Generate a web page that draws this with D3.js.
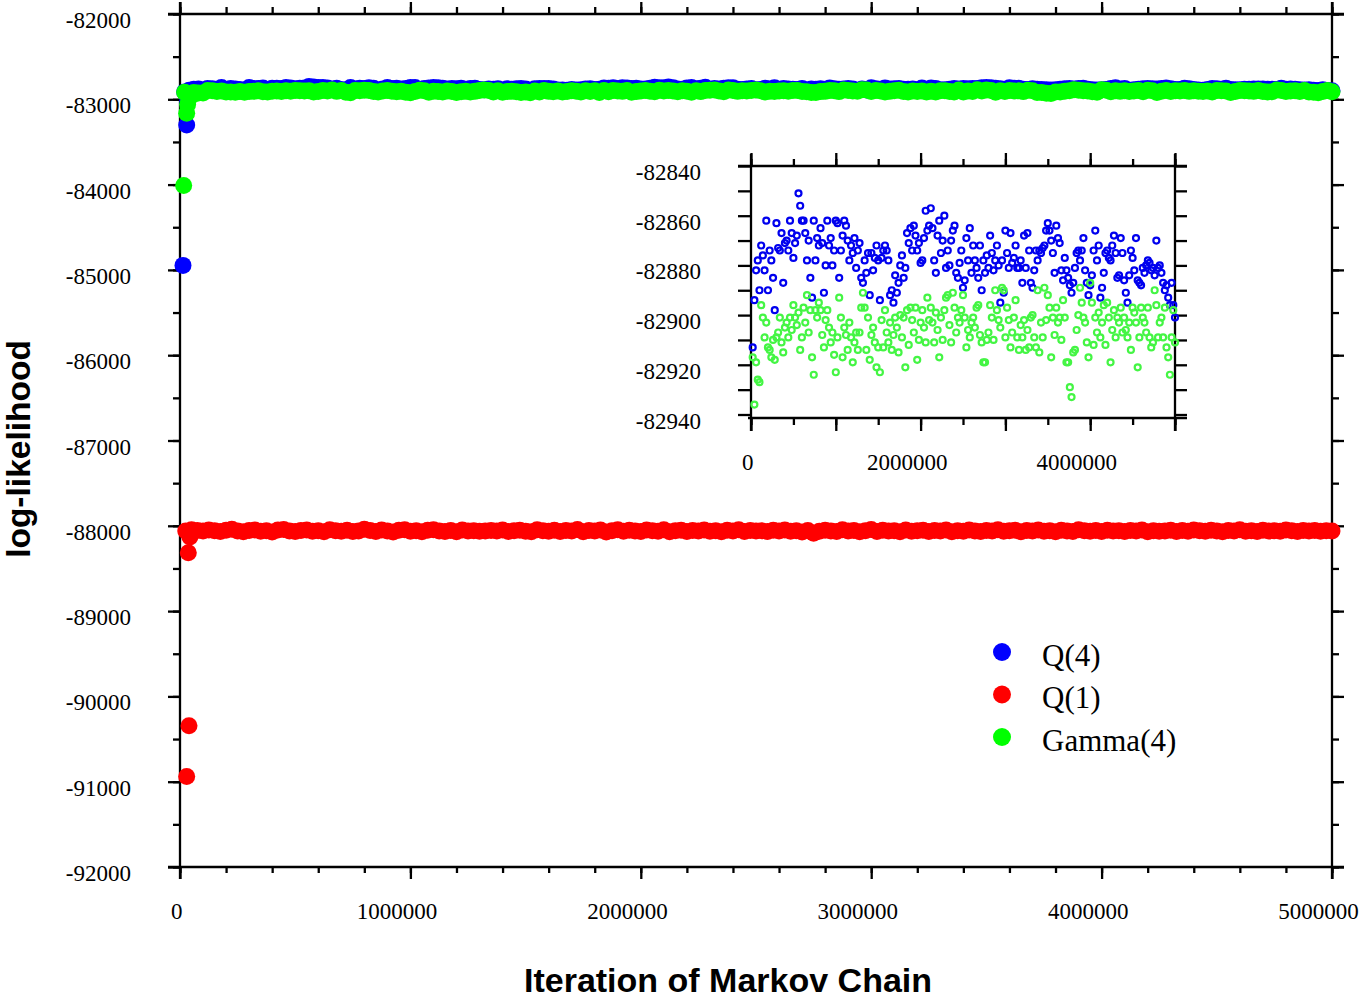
<!DOCTYPE html>
<html>
<head>
<meta charset="utf-8">
<script src="https://cdn.jsdelivr.net/npm/d3@7"></script>
<style>
  body { margin: 0; background: #fff; }
  svg { display: block; }
</style>
</head>
<body>
<div id="chart"></div>
<script>
// burn-in samples (start of each chain)
const q4BurnIter = [13000, 29000, 33000, 37000];
const q4BurnValues = [-84947, -83300, -83020, -82950];
const gamma4BurnIter = [16000, 29000, 33000, 38000, 60000];
const gamma4BurnValues = [-84010, -83163, -83060, -82990, -82940];
const q1BurnIter = [29000, 36000, 39000, 43000];
const q1BurnValues = [-90938, -88315, -90345, -88130];

// thinned samples after burn-in
const sampleStep = 20000;
const q4Values = [
  -82913, -82894, -82882, -82878, -82890, -82872, -82876, -82882, -82862, -82890,
  -82874, -82878, -82885, -82898, -82863, -82873, -82874, -82867, -82887, -82871,
  -82870, -82874, -82862, -82867, -82877, -82871, -82868, -82851, -82856, -82862,
  -82862, -82867, -82878, -82870, -82885, -82893, -82862, -82878, -82869, -82872,
  -82865, -82871, -82891, -82880, -82862, -82872, -82869, -82880, -82874, -82862,
  -82863, -82885, -82874, -82868, -82862, -82864, -82870, -82878, -82872, -82875,
  -82869, -82881, -82874, -82871, -82885, -82887, -82878, -82883, -82875, -82892,
  -82875, -82882, -82877, -82872, -82878, -82894, -82877, -82874, -82872, -82874,
  -82878, -82892, -82890, -82895, -82884, -82891, -82887, -82880, -82876, -82885,
  -82881, -82867, -82871, -82865, -82874, -82864, -82868, -82874, -82871, -82879,
  -82878, -82869, -82858, -82866, -82864, -82857, -82865, -82878, -82883, -82868,
  -82862, -82875, -82870, -82860, -82881, -82874, -82880, -82870, -82866, -82864,
  -82883, -82885, -82879, -82874, -82889, -82886, -82869, -82878, -82865, -82883,
  -82872, -82878, -82881, -82885, -82872, -82890, -82878, -82883, -82876, -82881,
  -82868, -82875, -82882, -82878, -82872, -82880, -82895, -82878, -82891, -82866,
  -82875, -82881, -82867, -82879, -82877, -82872, -82881, -82881, -82878, -82887,
  -82868, -82881, -82867, -82874, -82887, -82889, -82882, -82874, -82878, -82874,
  -82875, -82873, -82872, -82866, -82863, -82866, -82870, -82875, -82883, -82864,
  -82869, -82871, -82882, -82886, -82877, -82882, -82885, -82888, -82891, -82887,
  -82881, -82875, -82874, -82878, -82874, -82869, -82882, -82887, -82892, -82888,
  -82884, -82874, -82866, -82878, -82872, -82893, -82889, -82883, -82875, -82874,
  -82877, -82878, -82872, -82868, -82875, -82885, -82884, -82869, -82875, -82886,
  -82891, -82895, -82884, -82874, -82877, -82882, -82869, -82886, -82887, -82888,
  -82881, -82883, -82880, -82878, -82879, -82882, -82881, -82884, -82870, -82881,
  -82880, -82883, -82887, -82890, -82888, -82893, -82896, -82887, -82896, -82901
];
const gamma4Values = [
  -82917, -82936, -82919, -82926, -82927, -82896, -82901, -82909, -82903, -82913,
  -82914, -82917, -82910, -82918, -82909, -82907, -82901, -82911, -82915, -82905,
  -82903, -82909, -82901, -82906, -82896, -82901, -82904, -82899, -82914, -82909,
  -82897, -82903, -82892, -82907, -82898, -82917, -82924, -82898, -82901, -82895,
  -82898, -82908, -82913, -82902, -82898, -82905, -82911, -82907, -82916, -82923,
  -82909, -82893, -82901, -82917, -82905, -82908, -82914, -82903, -82909, -82919,
  -82911, -82907, -82914, -82907, -82897, -82891, -82897, -82914, -82901, -82918,
  -82908, -82905, -82911, -82921, -82913, -82923, -82902, -82913, -82898, -82907,
  -82911, -82903, -82914, -82908, -82901, -82905, -82915, -82900, -82909, -82901,
  -82921, -82898, -82912, -82897, -82902, -82907, -82897, -82918, -82910, -82903,
  -82898, -82905, -82911, -82893, -82902, -82897, -82903, -82911, -82899, -82906,
  -82917, -82901, -82910, -82898, -82893, -82892, -82904, -82911, -82891, -82897,
  -82907, -82901, -82903, -82898, -82892, -82901, -82913, -82906, -82909, -82903,
  -82901, -82905, -82897, -82896, -82908, -82911, -82919, -82919, -82910, -82907,
  -82896, -82901, -82910, -82890, -82898, -82902, -82905, -82889, -82890, -82909,
  -82897, -82902, -82913, -82907, -82901, -82894, -82909, -82914, -82904, -82909,
  -82902, -82914, -82906, -82913, -82901, -82900, -82909, -82913, -82890, -82915,
  -82903, -82909, -82889, -82902, -82892, -82897, -82917, -82901, -82908, -82897,
  -82903, -82901, -82910, -82894, -82901, -82919, -82919, -82929, -82933, -82915,
  -82914, -82906, -82900, -82889, -82895, -82901, -82903, -82911, -82917, -82887,
  -82895, -82912, -82901, -82907, -82899, -82909, -82903, -82896, -82912, -82895,
  -82901, -82919, -82906, -82898, -82909, -82901, -82903, -82897, -82907, -82901,
  -82906, -82909, -82903, -82914, -82897, -82899, -82903, -82921, -82909, -82897,
  -82901, -82903, -82907, -82897, -82909, -82913, -82911, -82890, -82896, -82909,
  -82903, -82901, -82909, -82897, -82913, -82917, -82924, -82909, -82898, -82911
];
const q1Step = 25000;
const q1Values = [
  -88060, -88045, -88055, -88062, -88050, -88058, -88066, -88052, -88040, -88060,
  -88070, -88055, -88048, -88063, -88058, -88072, -88050, -88044, -88061, -88067,
  -88054, -88049, -88065, -88059, -88071, -88046, -88057, -88063, -88052, -88068,
  -88060, -88041, -88056, -88066, -88050, -88062, -88074, -88053, -88047, -88064,
  -88058, -88069, -88051, -88045, -88060, -88066, -88055, -88071, -88049, -88062,
  -88057, -88065, -88060, -88054, -88061, -88048, -88068, -88059, -88052, -88063,
  -88070, -88046, -88058, -88064, -88051, -88067, -88055, -88061, -88043, -88069,
  -88056, -88062, -88050, -88073, -88058, -88047, -88065, -88053, -88060, -88068,
  -88049, -88057, -88063, -88045, -88071, -88059, -88052, -88066, -88054, -88061,
  -88048, -88064, -88057, -88070, -88051, -88060, -88046, -88066, -88055, -88062,
  -88059, -88067, -88053, -88061, -88049, -88065, -88058, -88072, -88056, -88088,
  -88063, -88051, -88060, -88068, -88047, -88062, -88055, -88070, -88058, -88044,
  -88066, -88053, -88061, -88057, -88069, -88050, -88064, -88059, -88052, -88067,
  -88055, -88062, -88048, -88071, -88057, -88063, -88050, -88060, -88066, -88054,
  -88061, -88046, -88065, -88058, -88052, -88069, -88056, -88062, -88049, -88064,
  -88057, -88070, -88053, -88060, -88067, -88045, -88059, -88063, -88055, -88068,
  -88051, -88062, -88058, -88066, -88054, -88061, -88048, -88070, -88057, -88063,
  -88060, -88052, -88067, -88056, -88064, -88050, -88058, -88065, -88053, -88061,
  -88069, -88055, -88060, -88047, -88063, -88058, -88066, -88052, -88062, -88057,
  -88064, -88050, -88059, -88068, -88054, -88061, -88056, -88065, -88058, -88062
];

// tick values
const mainXTicks = [0, 1000000, 2000000, 3000000, 4000000, 5000000];
const mainYTicks = [-82000, -83000, -84000, -85000, -86000, -87000, -88000, -89000, -90000, -91000, -92000];
const insetXTicks = [0, 1000000, 2000000, 3000000, 4000000, 5000000];
const insetXLabels = [0, 2000000, 4000000];
const insetYTicks = [-82840, -82860, -82880, -82900, -82920, -82940];
const legendLabels = ["Q(4)", "Q(1)", "Gamma(4)"];
const colors = ["#0000ff", "#ff0000", "#00ff00"];

const serif = "'Liberation Serif', 'Times New Roman', serif";
const sans = "'Liberation Sans', Arial, sans-serif";

function joinSeries(burnIter, burnValues, step, values) {
  const pts = burnIter.map((it, i) => ({ iter: it, value: burnValues[i] }));
  values.forEach((v, i) => pts.push({ iter: (i + 1) * step, value: v }));
  return pts;
}
const q4 = joinSeries(q4BurnIter, q4BurnValues, sampleStep, q4Values);
const gamma4 = joinSeries(gamma4BurnIter, gamma4BurnValues, sampleStep, gamma4Values);
const q1 = joinSeries(q1BurnIter, q1BurnValues, q1Step, q1Values);
const q4Inset = q4Values.map((v, i) => ({ iter: (i + 1) * sampleStep, value: v }));
const gamma4Inset = gamma4Values.map((v, i) => ({ iter: (i + 1) * sampleStep, value: v }));

const svg = d3.select("#chart").append("svg").attr("width", 1360).attr("height", 1001);

// tick marks with a d3 axis, no domain path
function ticks(g, axisFn, scale, values, size) {
  g.call(axisFn(scale).tickValues(values).tickSize(size).tickFormat(""));
  g.select(".domain").remove();
  g.selectAll("line").attr("stroke", "#000").attr("stroke-width", 2.3);
}
function line(x1, y1, x2, y2) {
  svg.append("line").attr("x1", x1).attr("y1", y1).attr("x2", x2).attr("y2", y2)
    .attr("stroke", "#000").attr("stroke-width", 2.3);
}
const shift = s => -(String(s).length * 1.7 + 1.5);

// ---------- main plot ----------
const x = d3.scaleLinear().domain([0, 5000000]).range([180, 1332]);
const y = d3.scaleLinear().domain([-92000, -82000]).range([867, 14]);

const xMinor = d3.range(0, 5000001, 200000);
const yMinor = d3.range(-92000, -81999, 500);

ticks(svg.append("g").attr("transform", "translate(0,867)"), d3.axisBottom, x, xMinor, 6);
ticks(svg.append("g").attr("transform", "translate(0,867)"), d3.axisBottom, x, mainXTicks, 12);
ticks(svg.append("g").attr("transform", "translate(0,14)"), d3.axisTop, x, xMinor, 7);
ticks(svg.append("g").attr("transform", "translate(0,14)"), d3.axisTop, x, mainXTicks, 12);
ticks(svg.append("g").attr("transform", "translate(180,0)"), d3.axisLeft, y, yMinor, 7);
ticks(svg.append("g").attr("transform", "translate(180,0)"), d3.axisLeft, y, mainYTicks, 12);
ticks(svg.append("g").attr("transform", "translate(1332,0)"), d3.axisRight, y, yMinor, 7);
ticks(svg.append("g").attr("transform", "translate(1332,0)"), d3.axisRight, y, mainYTicks, 12);

line(168, 14, 1344, 14);
line(168, 867, 1344, 867);
line(180, 2, 180, 879);
line(1332, 2, 1332, 879);

svg.append("g").selectAll("text").data(mainXTicks).join("text")
  .attr("x", d => x(d)).attr("dx", d => shift(d)).attr("y", 919)
  .attr("text-anchor", "middle").attr("font-family", serif).attr("font-size", 23)
  .text(d => d);
svg.append("g").selectAll("text").data(mainYTicks).join("text")
  .attr("x", 131).attr("y", d => y(d) + 14)
  .attr("text-anchor", "end").attr("font-family", serif).attr("font-size", 23)
  .text(d => d);

// series
[[q4, colors[0]], [q1, colors[1]], [gamma4, colors[2]]].forEach(([data, c]) => {
  svg.append("g").selectAll("circle").data(data).join("circle")
    .attr("cx", d => x(d.iter)).attr("cy", d => y(d.value)).attr("r", 8.5)
    .attr("fill", c);
});

// axis titles
svg.append("text").attr("x", 728).attr("y", 992).attr("text-anchor", "middle")
  .attr("font-family", sans).attr("font-weight", "bold").attr("font-size", 34)
  .text("Iteration of Markov Chain");
svg.append("text").attr("transform", "translate(30,449) rotate(-90)").attr("text-anchor", "middle")
  .attr("font-family", sans).attr("font-weight", "bold").attr("font-size", 33.5)
  .text("log-likelihood");

// legend
const legend = svg.append("g").selectAll("g").data(legendLabels).join("g")
  .attr("transform", (d, i) => `translate(1002,${652 + i * 42.5})`);
legend.append("circle").attr("r", 9).attr("fill", (d, i) => colors[i]);
legend.append("text").attr("x", 40).attr("y", 13.5)
  .attr("font-family", serif).attr("font-size", 31).text(d => d);

// ---------- inset ----------
const ix = d3.scaleLinear().domain([0, 5000000]).range([751, 1175]);
const iy = d3.scaleLinear().domain([-82940, -82840]).range([414.5, 166]);
const ixMinor = d3.range(0, 5000001, 500000);
const iyAll = d3.range(-82940, -82839, 10);

ticks(svg.append("g").attr("transform", "translate(0,418)"), d3.axisBottom, ix, ixMinor, 7);
ticks(svg.append("g").attr("transform", "translate(0,418)"), d3.axisBottom, ix, insetXTicks, 13);
ticks(svg.append("g").attr("transform", "translate(0,166)"), d3.axisTop, ix, ixMinor, 7);
ticks(svg.append("g").attr("transform", "translate(0,166)"), d3.axisTop, ix, insetXTicks, 13);
ticks(svg.append("g").attr("transform", "translate(751,0)"), d3.axisLeft, iy, iyAll, 13);
ticks(svg.append("g").attr("transform", "translate(1175,0)"), d3.axisRight, iy, iyAll, 12);

line(738, 166, 1187, 166);
line(748, 418, 1187, 418);
line(751, 154, 751, 431);
line(1175, 154, 1175, 431);

svg.append("g").selectAll("text").data(insetXLabels).join("text")
  .attr("x", d => ix(d)).attr("dx", d => shift(d)).attr("y", 470)
  .attr("text-anchor", "middle").attr("font-family", serif).attr("font-size", 23)
  .text(d => d);
svg.append("g").selectAll("text").data(insetYTicks).join("text")
  .attr("x", 701).attr("y", d => iy(d) + 14)
  .attr("text-anchor", "end").attr("font-family", serif).attr("font-size", 23)
  .text(d => d);

[[q4Inset, "#0000ee"], [gamma4Inset, "#44f544"]].forEach(([data, c]) => {
  svg.append("g").selectAll("circle").data(data).join("circle")
    .attr("cx", d => ix(d.iter)).attr("cy", d => iy(d.value)).attr("r", 3)
    .attr("fill", "none").attr("stroke", c).attr("stroke-width", 2.2);
});
</script>
</body>
</html>
